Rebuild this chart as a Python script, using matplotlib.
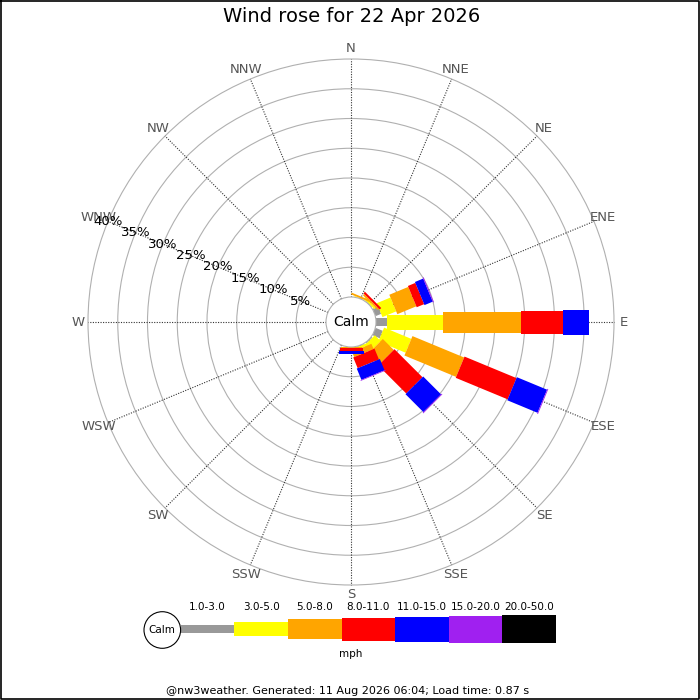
import numpy as np
import matplotlib
matplotlib.use("Agg")
import matplotlib.pyplot as plt
from matplotlib.patches import Circle, Polygon, Rectangle

# Wind rose data (percent of time per direction and speed bin)
directions = ['N', 'NNE', 'NE', 'ENE', 'E', 'ESE', 'SE', 'SSE',
              'S', 'SSW', 'SW', 'WSW', 'W', 'WNW', 'NW', 'NNW']
speed_bins = ['1.0-3.0', '3.0-5.0', '5.0-8.0', '8.0-11.0',
              '11.0-15.0', '15.0-20.0', '20.0-50.0']
bin_colors = ['#999999', '#ffff00', '#ffa500', '#ff0000',
              '#0000ff', '#a020f0', '#000000']

#            N  NNE   NE   ENE    E    ESE   SE   SSE    S  SSW SW WSW W WNW NW NNW
pct_1_3 =   [0, 0.0, 0.1, 1.0, 1.8, 1.3, 0.2, 0.1, 0.0, 0, 0, 0, 0, 0, 0, 0]
pct_3_5 =   [0, 0.1, 0.3, 2.5, 9.4, 4.95, 1.4, 0.4, 0.05, 0, 0, 0, 0, 0, 0, 0]
pct_5_8 =   [0, 0.3, 0.3, 3.45, 13.1, 9.4, 2.6, 0.95, 0.07, 0, 0, 0, 0, 0, 0, 0]
pct_8_11 =  [0, 0.0, 0.35, 1.35, 7.15, 9.45, 6.65, 1.95, 0.5, 0, 0, 0, 0, 0, 0, 0]
pct_11_15 = [0, 0.0, 0.0, 1.5, 4.3, 5.5, 4.25, 2.05, 0.55, 0, 0, 0, 0, 0, 0, 0]
pct_15_20 = [0, 0.0, 0.0, 0.15, 0.0, 0.15, 0.15, 0.12, 0.0, 0, 0, 0, 0, 0, 0, 0]
pct_20_50 = [0, 0.0, 0.0, 0.0, 0.0, 0.0, 0.0, 0.0, 0.0, 0, 0, 0, 0, 0, 0, 0]

ring_pcts = [5, 10, 15, 20, 25, 30, 35, 40]

title = "Wind rose for 22 Apr 2026"
footer = "@nw3weather. Generated: 11 Aug 2026 06:04; Load time: 0.87 s"

# layout (pixels)
W = H = 700
cx, cy = 351, 322           # rose centre in pixels
px_per_pct = 5.95
calm_px = 25
leg_widths_px = [8, 15, 21, 23, 25, 27, 29]

table = np.array([pct_1_3, pct_3_5, pct_5_8, pct_8_11,
                  pct_11_15, pct_15_20, pct_20_50])

fig = plt.figure(figsize=(7, 7), dpi=100)

# --- rose axes, data units are percent ---
ax = fig.add_axes([0, 0, 1, 1])
ax.set_xlim(-cx / px_per_pct, (W - cx) / px_per_pct)
ax.set_ylim((cy - H) / px_per_pct, cy / px_per_pct)
ax.axis('off')

calm_r = calm_px / px_per_pct

for p in ring_pcts:
    ax.add_patch(Circle((0, 0), calm_r + p, fill=False, ec='#b0b0b0', lw=0.8, zorder=1))

outer = calm_r + ring_pcts[-1]
for k, name in enumerate(directions):
    th = np.deg2rad(k * 22.5)
    ux, uy = np.sin(th), np.cos(th)
    ax.plot([calm_r * ux, outer * ux], [calm_r * uy, outer * uy],
            color='#333333', lw=0.8, ls=(0, (1, 1.3)), zorder=2)
    lr = 273 / px_per_pct
    ax.text(lr * ux, lr * uy, name, ha='center', va='center',
            fontsize=9.5, color='#555555', zorder=5)

# percent labels along WNW
th = np.deg2rad(292.5)
for p in ring_pcts:
    r = calm_r + p
    ax.text(r * np.sin(th), r * np.cos(th), f"{p}%", ha='center', va='center',
            fontsize=9.5, color='black', zorder=5)

# legs
for k in range(len(directions)):
    th = np.deg2rad(k * 22.5)
    ux, uy = np.sin(th), np.cos(th)
    px_, py_ = np.cos(th), -np.sin(th)
    start = 0.0
    for j in range(len(speed_bins)):
        v = table[j, k]
        if v <= 0:
            continue
        r0 = calm_r + start
        r1 = calm_r + start + v
        hw = leg_widths_px[j] / px_per_pct / 2
        pts = [(r0 * ux - hw * px_, r0 * uy - hw * py_),
               (r1 * ux - hw * px_, r1 * uy - hw * py_),
               (r1 * ux + hw * px_, r1 * uy + hw * py_),
               (r0 * ux + hw * px_, r0 * uy + hw * py_)]
        ax.add_patch(Polygon(pts, closed=True, fc=bin_colors[j], ec='none', zorder=3 + j * 0.01))
        start += v

ax.add_patch(Circle((0, 0), calm_r, fc='white', ec='#b0b0b0', lw=0.8, zorder=4))
ax.text(0, 0, "Calm", ha='center', va='center', fontsize=10, zorder=5)

# --- legend, pixel coordinates ---
lg = fig.add_axes([0, 0, 1, 1])
lg.set_xlim(0, W)
lg.set_ylim(H, 0)
lg.axis('off')
lg.patch.set_alpha(0)

seg_x0, seg_w, seg_y = 180.7, 53.6, 629
leg_heights = [7.7, 13.7, 20.3, 23, 25, 27, 28.6]
for j, lab in enumerate(speed_bins):
    x0 = seg_x0 + j * seg_w
    h = leg_heights[j]
    lg.add_patch(Rectangle((x0, seg_y - h / 2), seg_w, h, fc=bin_colors[j], ec='none'))
    lg.text(x0 + seg_w / 2, 607, lab, ha='center', va='center', fontsize=7.5)
lg.add_patch(Circle((162.3, 630), 18.3, fc='white', ec='black', lw=0.8, zorder=5))
lg.text(162.3, 630, "Calm", ha='center', va='center', fontsize=7.5, zorder=6)
lg.text(351, 654, "mph", ha='center', va='center', fontsize=7.5)

lg.text(352, 17, title, ha='center', va='center', fontsize=14)
lg.text(348, 691, footer, ha='center', va='center', fontsize=8)

# frame
lg.plot([0.5, 698.5, 698.5, 0.5, 0.5], [0.5, 0.5, 698.5, 698.5, 0.5], color='black', lw=1.2)

fig.savefig("out.png", dpi=100)
